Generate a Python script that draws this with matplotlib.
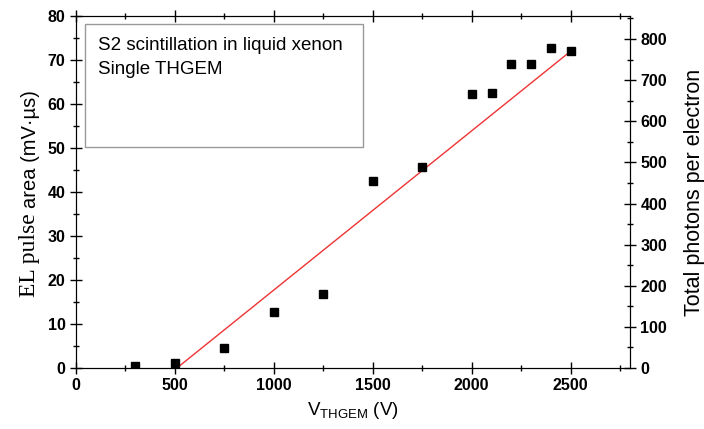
import matplotlib
matplotlib.use("Agg")
import matplotlib.pyplot as plt
from matplotlib.ticker import MultipleLocator

plt.rcParams['font.family'] = ['Liberation Sans', 'DejaVu Sans']

# measured points
v_thgem = [300, 500, 750, 1000, 1250, 1500, 1750, 2000, 2100, 2200, 2300, 2400, 2500]
el_area = [0.4, 1.1, 4.5, 12.8, 16.8, 42.6, 45.6, 62.3, 62.6, 69.2, 69.2, 72.7, 72.0]

# linear fit endpoints
fit_v = [510, 2500]
fit_area = [0.0, 72.0]

photons_per_area = 10.7

fig = plt.figure(figsize=(7.04, 4.29), dpi=100)
ax = fig.add_axes([76/704, 1-368/429, (630-76)/704, (368-16)/429])

ax.plot(fit_v, fit_area, color="#ee3333", lw=1.0, zorder=2)
ax.plot(v_thgem, el_area, ls="none", marker="s", ms=5.5, color="black", zorder=3)

ax.set_xlim(0, 2800)
ax.set_ylim(0, 80)
ax.xaxis.set_major_locator(MultipleLocator(500))
ax.xaxis.set_minor_locator(MultipleLocator(250))
ax.yaxis.set_major_locator(MultipleLocator(10))
ax.yaxis.set_minor_locator(MultipleLocator(5))
ax.tick_params(which="major", direction="inout", length=8, width=1, labelsize=11.5)
ax.tick_params(which="minor", direction="inout", length=5, width=1)
ax.tick_params(axis="x", top=True, which="both")
for lbl in ax.get_xticklabels() + ax.get_yticklabels():
    lbl.set_fontweight("bold")

ax2 = ax.twinx()
ax2.set_ylim(0, 80 * photons_per_area)
ax2.yaxis.set_major_locator(MultipleLocator(100))
ax2.yaxis.set_minor_locator(MultipleLocator(50))
ax2.tick_params(which="major", direction="inout", length=8, width=1, labelsize=11.5)
ax2.tick_params(which="minor", direction="inout", length=5, width=1)
for lbl in ax2.get_yticklabels():
    lbl.set_fontweight("bold")
ax2.set_ylabel("Total photons per electron", fontsize=15.5, labelpad=12)

ax.set_xlabel("V$_{\\mathregular{THGEM}}$ (V)", fontsize=13.5, labelpad=5)

# mixed-font y label
fig.text(29/704, 1-297/429, "EL pulse", family="Liberation Serif", fontsize=17,
         rotation=90, rotation_mode="anchor", ha="left", va="center")
fig.text(30/704, 1-208/429, "area (mV\u00b7\u00b5s)", fontsize=14.5,
         rotation=90, rotation_mode="anchor", ha="left", va="center")

# annotation box
ax.text(22/554, 1-(37-16)/352, "S2 scintillation in liquid xenon\nSingle THGEM", transform=ax.transAxes,
        fontsize=13.5, va="top", ha="left", linespacing=1.5)
box = plt.Rectangle(((85-76)/554, 1-(147-16)/352), (363-85)/554, (147-24)/352,
                    transform=ax.transAxes, fill=False, ec="#999999", lw=1.0)
ax.add_patch(box)

fig.savefig("out.png", dpi=100)
